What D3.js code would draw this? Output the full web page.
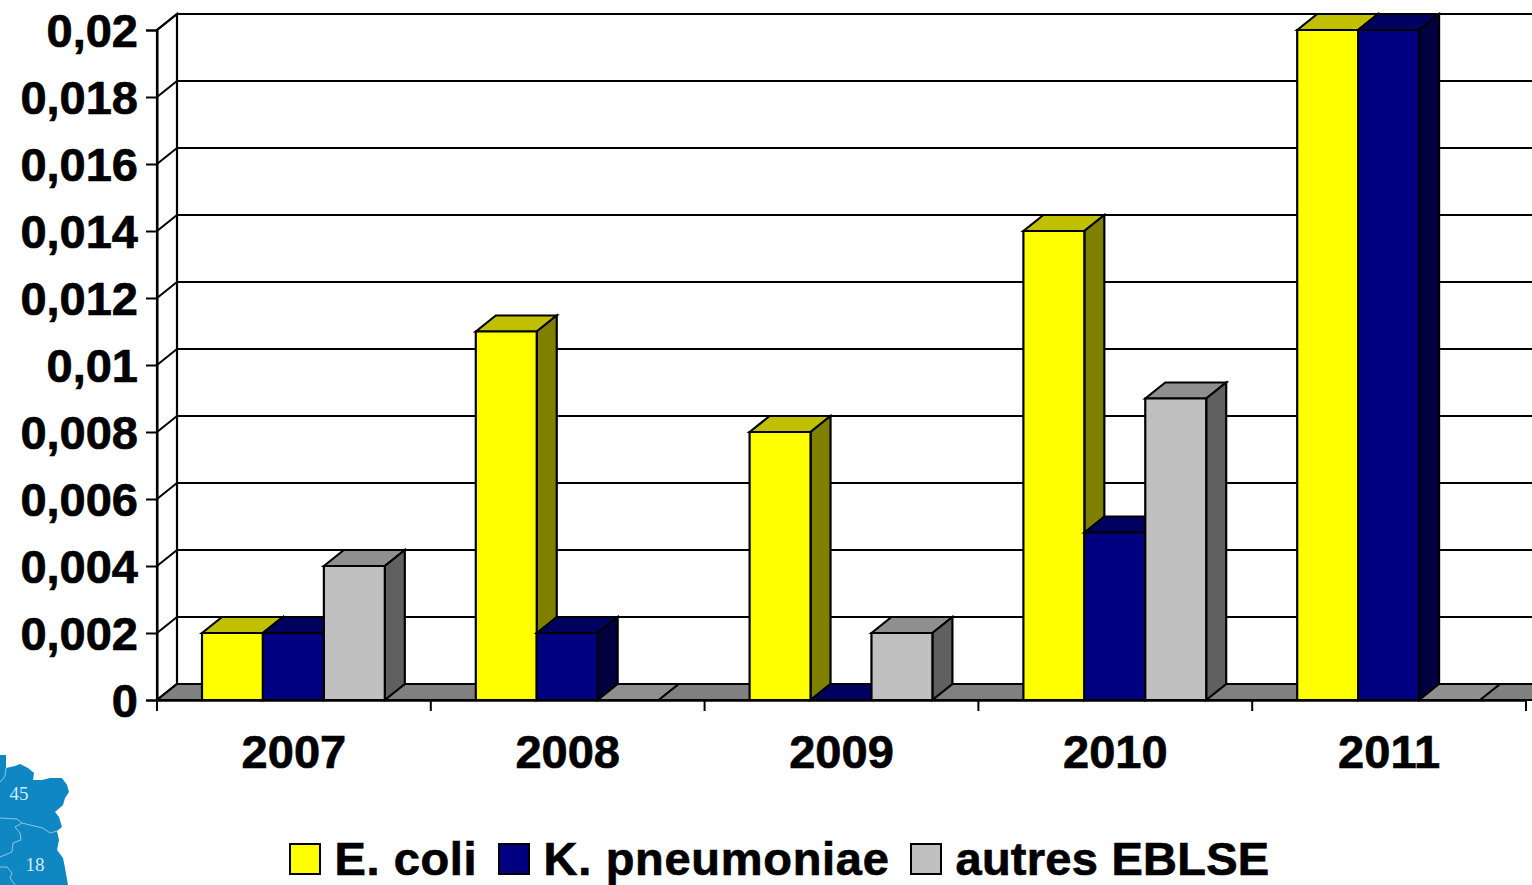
<!DOCTYPE html>
<html><head><meta charset="utf-8">
<script src="https://cdn.jsdelivr.net/npm/d3@7/dist/d3.min.js"></script>
<style>html,body{margin:0;padding:0;background:#fff;overflow:hidden}svg{display:block}
text{font-family:"Liberation Sans",Arial,sans-serif;font-weight:bold;fill:#000;stroke:#000;stroke-width:0.7px}</style></head>
<body><svg id="c" width="1532" height="885"></svg>
<script>
const years = ["2007","2008","2009","2010","2011"];
const seriesNames = ["E. coli","K. pneumoniae","autres EBLSE"];
const eColi = [0.002,0.011,0.008,0.014,0.02];
const kPneumoniae = [0.002,0.002,0,0.005,0.02];
const autres = [0.004,0,0.002,0.009,0];
const yTicks = [0,0.002,0.004,0.006,0.008,0.01,0.012,0.014,0.016,0.018,0.02];
const yLabels = ["0","0,002","0,004","0,006","0,008","0,01","0,012","0,014","0,016","0,018","0,02"];
const faces = [
 {front:"#ffff00",top:"#c0c000",side:"#808000"},
 {front:"#000080",top:"#000060",side:"#000040"},
 {front:"#c0c0c0",top:"#8f8f8f",side:"#606060"}];
const seriesValues=[eColi,kPneumoniae,autres];

const dx=20,dy=16;
const svg=d3.select("#c");
const y=d3.scaleLinear().domain([0,0.02]).range([700,30]);
const x=d3.scaleBand().domain(years).range([157,1526]);
const inner=d3.scaleBand().domain(d3.range(3)).range([45,x.bandwidth()-46]);
const line=d3.line();
const poly=(g,pts,fill)=>g.append("path").attr("d",line(pts)+"Z").attr("fill",fill).attr("stroke","#000").attr("stroke-width",2.2).attr("stroke-linejoin","miter");

// back wall and side wall
const xL=x.range()[0], xR=1560;
const grid=svg.append("g");
poly(grid,[[xL,y(0)],[xL+dx,y(0)-dy],[xL+dx,y(0.02)-dy],[xL,y(0.02)]],"#fff");
yTicks.forEach(t=>{
  grid.append("line").attr("x1",xL).attr("x2",xL+dx).attr("y1",y(t)).attr("y2",y(t)-dy).attr("stroke","#000").attr("stroke-width",2);
  grid.append("line").attr("x1",xL+dx).attr("x2",xR).attr("y1",y(t)-dy).attr("y2",y(t)-dy).attr("stroke","#000").attr("stroke-width",2);
});
// floor
poly(svg.append("g"),[[xL,y(0)],[xL+dx,y(0)-dy],[xR,y(0)-dy],[xR,y(0)]],"#808080");

// bars
const bars=svg.append("g");
years.forEach((yr,i)=>{
  seriesValues.forEach((vals,s)=>{
    const v=vals[i], f=faces[s];
    const x0=x(yr)+inner(s), x1=x0+inner.bandwidth(), yt=y(v), yb=y(0);
    const g=bars.append("g");
    poly(g,[[x0,yt],[x0+dx,yt-dy],[x1+dx,yt-dy],[x1,yt]],f.top);
    if(v>0){
      poly(g,[[x1,yt],[x1+dx,yt-dy],[x1+dx,yb-dy],[x1,yb]],f.side);
      poly(g,[[x0,yt],[x1,yt],[x1,yb],[x0,yb]],f.front);
    }
  });
});

// axes
const yAxis=d3.axisLeft(y).tickValues(yTicks).tickSize(11).tickPadding(8).tickFormat((d,i)=>yLabels[i]);
const gy=svg.append("g").attr("transform",`translate(${xL},0)`).call(yAxis);
gy.select(".domain").attr("stroke","#000").attr("stroke-width",2);
gy.selectAll(".tick line").attr("stroke","#000").attr("stroke-width",2);
gy.selectAll("text").attr("font-size",47).attr("font-family",null).attr("dy","0.36em");

const xAxis=d3.axisBottom(x).tickSizeInner(0).tickSizeOuter(0).tickPadding(35);
const gx=svg.append("g").attr("transform",`translate(0,${y(0)})`).call(xAxis);
gx.select(".domain").attr("stroke","#000").attr("stroke-width",2.5);
gx.selectAll("text").attr("font-size",47).attr("font-family",null);
d3.range(6).forEach(i=>{
  const px=xL+i*x.step();
  gx.append("line").attr("x1",px).attr("x2",px).attr("y1",0).attr("y2",11).attr("stroke","#000").attr("stroke-width",2);
});

// legend
const legendX=[290,499,911];
const legendSpacing=[0.6,0.7,0.25];
const leg=svg.append("g");
seriesNames.forEach((n,i)=>{
  leg.append("rect").attr("x",legendX[i]).attr("y",844).attr("width",30).attr("height",30).attr("fill",faces[i].front).attr("stroke","#000").attr("stroke-width",2);
  leg.append("text").attr("x",legendX[i]+44.5).attr("y",875).attr("font-size",47).style("letter-spacing",legendSpacing[i]+"px").text(n);
});

// map fragment decoration
const mapOutline=[[0,755],[6,755],[6,768],[15,766],[20,764],[28,768],[34,773],[33,780],[42,780],[50,778],[62,778],[67,785],[69,792],[65,798],[63,805],[55,812],[59,817],[62,827],[57,831],[59,840],[57,850],[63,858],[65,868],[68,885],[0,885]];
const deco=svg.append("g");
deco.append("path").attr("d",line(mapOutline)+"Z").attr("fill","#0e87c2");
const borders=[
 [[6,768],[5,776],[2,780],[0,782]],
 [[0,818],[17,819],[22,823],[30,825],[43,828],[50,833],[57,831]],
 [[22,823],[15,827],[20,833],[21,840],[13,843],[12,852],[0,857]],
 [[0,867],[7,867],[12,873],[10,878],[15,885]]];
borders.forEach(b=>deco.append("path").attr("d",line(b)).attr("fill","none").attr("stroke","#8fc6e2").attr("stroke-width",1));
[["45",19,800],["18",35,871]].forEach(([t,a,b])=>deco.append("text").attr("x",a).attr("y",b).attr("text-anchor","middle").attr("font-size",19).style("font-family","'Liberation Serif',serif").style("font-weight","normal").style("stroke","none").style("fill","#d6e9f4").text(t));
</script></body></html>
